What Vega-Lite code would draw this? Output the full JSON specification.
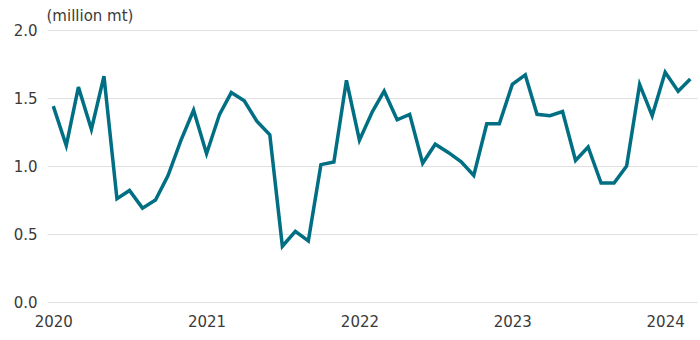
{
  "$schema": "https://vega.github.io/schema/vega-lite/v6.json",
  "autosize": "none",
  "width": 650,
  "height": 272,
  "padding": {"left": 47, "top": 30, "right": 3, "bottom": 38},
  "background": "white",
  "config": {
    "view": {"stroke": null},
    "font": "DejaVu Sans",
    "axis": {"labelFont": "DejaVu Sans", "titleFont": "DejaVu Sans"}
  },
  "data": {
    "values": [
      {"date": "2020-01-01T00:00:00", "value": 1.44},
      {"date": "2020-02-01T00:00:00", "value": 1.15},
      {"date": "2020-03-01T00:00:00", "value": 1.58},
      {"date": "2020-04-01T00:00:00", "value": 1.27},
      {"date": "2020-05-01T00:00:00", "value": 1.66},
      {"date": "2020-06-01T00:00:00", "value": 0.76},
      {"date": "2020-07-01T00:00:00", "value": 0.82},
      {"date": "2020-08-01T00:00:00", "value": 0.69},
      {"date": "2020-09-01T00:00:00", "value": 0.75},
      {"date": "2020-10-01T00:00:00", "value": 0.93},
      {"date": "2020-11-01T00:00:00", "value": 1.19},
      {"date": "2020-12-01T00:00:00", "value": 1.41},
      {"date": "2021-01-01T00:00:00", "value": 1.09},
      {"date": "2021-02-01T00:00:00", "value": 1.38},
      {"date": "2021-03-01T00:00:00", "value": 1.54},
      {"date": "2021-04-01T00:00:00", "value": 1.48},
      {"date": "2021-05-01T00:00:00", "value": 1.33},
      {"date": "2021-06-01T00:00:00", "value": 1.23},
      {"date": "2021-07-01T00:00:00", "value": 0.41},
      {"date": "2021-08-01T00:00:00", "value": 0.52},
      {"date": "2021-09-01T00:00:00", "value": 0.45},
      {"date": "2021-10-01T00:00:00", "value": 1.01},
      {"date": "2021-11-01T00:00:00", "value": 1.03},
      {"date": "2021-12-01T00:00:00", "value": 1.63},
      {"date": "2022-01-01T00:00:00", "value": 1.19},
      {"date": "2022-02-01T00:00:00", "value": 1.40},
      {"date": "2022-03-01T00:00:00", "value": 1.55},
      {"date": "2022-04-01T00:00:00", "value": 1.34},
      {"date": "2022-05-01T00:00:00", "value": 1.38},
      {"date": "2022-06-01T00:00:00", "value": 1.02},
      {"date": "2022-07-01T00:00:00", "value": 1.16},
      {"date": "2022-08-01T00:00:00", "value": 1.10},
      {"date": "2022-09-01T00:00:00", "value": 1.03},
      {"date": "2022-10-01T00:00:00", "value": 0.93},
      {"date": "2022-11-01T00:00:00", "value": 1.31},
      {"date": "2022-12-01T00:00:00", "value": 1.31},
      {"date": "2023-01-01T00:00:00", "value": 1.60},
      {"date": "2023-02-01T00:00:00", "value": 1.67},
      {"date": "2023-03-01T00:00:00", "value": 1.38},
      {"date": "2023-04-01T00:00:00", "value": 1.37},
      {"date": "2023-05-01T00:00:00", "value": 1.40},
      {"date": "2023-06-01T00:00:00", "value": 1.04},
      {"date": "2023-07-01T00:00:00", "value": 1.14},
      {"date": "2023-08-01T00:00:00", "value": 0.875},
      {"date": "2023-09-01T00:00:00", "value": 0.875},
      {"date": "2023-10-01T00:00:00", "value": 1.00},
      {"date": "2023-11-01T00:00:00", "value": 1.60},
      {"date": "2023-12-01T00:00:00", "value": 1.37},
      {"date": "2024-01-01T00:00:00", "value": 1.69},
      {"date": "2024-02-01T00:00:00", "value": 1.55},
      {"date": "2024-03-01T00:00:00", "value": 1.64}
    ]
  },
  "mark": {"type": "line", "color": "#006f83", "strokeWidth": 3.5, "strokeJoin": "miter"},
  "encoding": {
    "x": {
      "field": "date",
      "type": "temporal",
      "scale": {"domain": [{"year": 2019, "month": 12, "date": 17}, {"year": 2024, "month": 3, "date": 17}]},
      "axis": {
        "title": null,
        "format": "%Y",
        "tickCount": "year",
        "ticks": false,
        "domain": false,
        "grid": false,
        "labelFontSize": 15,
        "labelColor": "#3a3a3a",
        "labelPadding": 12,
        "labelFlush": false
      }
    },
    "y": {
      "field": "value",
      "type": "quantitative",
      "scale": {"domain": [0, 2], "nice": false},
      "axis": {
        "title": "(million mt)",
        "titleAngle": 0,
        "titleX": -1,
        "titleY": -15,
        "titleAlign": "left",
        "titleBaseline": "middle",
        "titleFontSize": 15,
        "titleFontWeight": "normal",
        "titleColor": "#3a3a3a",
        "values": [0, 0.5, 1, 1.5, 2],
        "format": ".1f",
        "ticks": false,
        "domain": false,
        "grid": true,
        "gridColor": "#e0e0e0",
        "gridWidth": 1,
        "labelFontSize": 15,
        "labelColor": "#3a3a3a",
        "labelPadding": 10
      }
    }
  }
}
